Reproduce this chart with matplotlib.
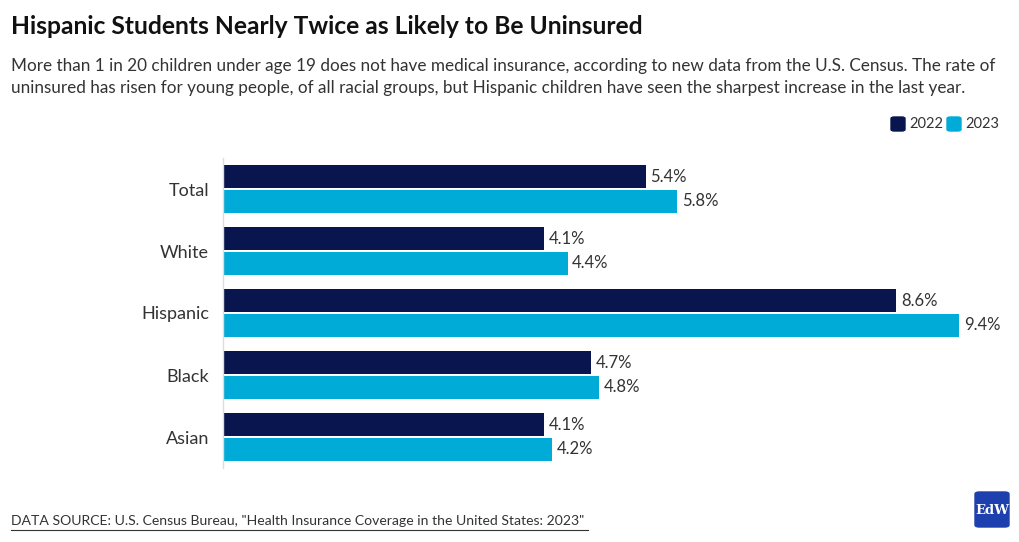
import matplotlib
matplotlib.use("Agg")
import matplotlib.pyplot as plt
from matplotlib.patches import FancyBboxPatch
import numpy as np

plt.rcParams['font.family'] = ['Lato', 'DejaVu Sans']

categories = ["Total", "White", "Hispanic", "Black", "Asian"]
rate_2022 = [5.4, 4.1, 8.6, 4.7, 4.1]
rate_2023 = [5.8, 4.4, 9.4, 4.8, 4.2]
years = ["2022", "2023"]

dark = "#08154f"
light = "#00acd7"
text_col = "#333333"

W, H = 1020, 542
fig = plt.figure(figsize=(W / 100, H / 100), dpi=100)

def fx(px):
    return px / W

def fy(py):
    return 1 - py / H

ax = fig.add_axes([fx(223), fy(468), fx(1006) - fx(223), fy(158) - fy(468)])
y = np.arange(len(categories))
h = 0.37
ax.barh(y - 0.2, rate_2022, height=h, color=dark)
ax.barh(y + 0.2, rate_2023, height=h, color=light)
for yi, v in zip(y, rate_2022):
    ax.text(v + 0.06, yi - 0.2, f"{v}%", va="center", ha="left", fontsize=12, color=text_col)
for yi, v in zip(y, rate_2023):
    ax.text(v + 0.06, yi + 0.2, f"{v}%", va="center", ha="left", fontsize=12, color=text_col)

ax.set_xlim(0, 10)
ax.set_ylim(len(categories) - 0.5, -0.5)
ax.set_yticks(y)
ax.set_yticklabels(categories, fontsize=13, color=text_col)
ax.tick_params(axis="y", length=0, pad=10)
ax.set_xticks([])
for s in ["top", "right", "bottom"]:
    ax.spines[s].set_visible(False)
ax.spines["left"].set_color("#dddddd")
ax.spines["left"].set_linewidth(1)

# title and subtitle
fig.text(fx(11), fy(26), "Hispanic Students Nearly Twice as Likely to Be Uninsured",
         fontsize=17.7, fontweight="bold", color="#111111", va="center", ha="left")
fig.text(fx(11), fy(66), "More than 1 in 20 children under age 19 does not have medical insurance, according to new data from the U.S. Census. The rate of",
         fontsize=12.3, color=text_col, va="center", ha="left")
fig.text(fx(11), fy(88), "uninsured has risen for young people, of all racial groups, but Hispanic children have seen the sharpest increase in the last year.",
         fontsize=12.3, color=text_col, va="center", ha="left")

# legend
for xs, col, lab in [(891, dark, years[0]), (947, light, years[1])]:
    fig.patches.append(FancyBboxPatch((fx(xs), fy(131)), fx(14), fy(117) - fy(131),
                                      boxstyle="round,pad=0,rounding_size=0.003",
                                      transform=fig.transFigure, color=col))
    fig.text(fx(xs + 18), fy(124), lab, fontsize=10.5, color=text_col, va="center", ha="left")

# footer
fig.text(fx(11), fy(521), 'DATA SOURCE: U.S. Census Bureau, "Health Insurance Coverage in the United States: 2023"',
         fontsize=10.1, color=text_col, va="center", ha="left")
fig.lines.append(plt.Line2D([fx(11), fx(588)], [fy(530), fy(530)], transform=fig.transFigure,
                            color=text_col, linewidth=0.8))

# logo
fig.patches.append(FancyBboxPatch((fx(975), fy(527)), fx(34), fy(492) - fy(527),
                                  boxstyle="round,pad=0,rounding_size=0.004",
                                  transform=fig.transFigure, color="#1e3fae"))
fig.text(fx(992), fy(510), "EdW", fontsize=9.5, color="white", family="DejaVu Serif",
         fontweight="bold", va="center", ha="center")

fig.savefig("out.png", dpi=100, facecolor="white")
